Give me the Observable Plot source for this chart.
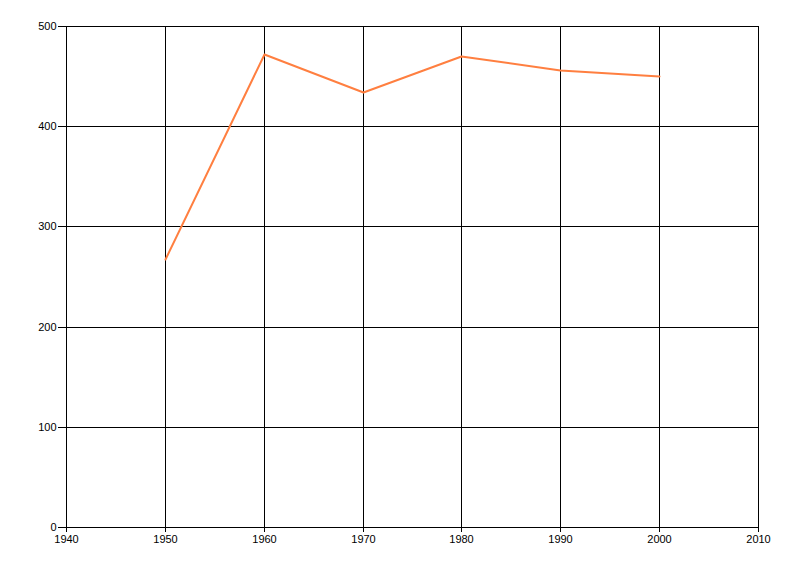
<!DOCTYPE html>
<html>
<head>
<meta charset="utf-8">
<script src="https://cdn.jsdelivr.net/npm/d3@7"></script>
<script src="https://cdn.jsdelivr.net/npm/@observablehq/plot@0.6"></script>
<style>
  html, body { margin: 0; padding: 0; background: #fff; }
  #chart svg { display: block; }
</style>
</head>
<body>
<div id="chart"></div>
<script>
const years = [1950, 1960, 1970, 1980, 1990, 2000];
const values = [267, 472, 434, 470, 456, 450];
const xTicks = [1940, 1950, 1960, 1970, 1980, 1990, 2000, 2010];
const yTicks = [0, 100, 200, 300, 400, 500];

const data = years.map((y, i) => ({year: y, value: values[i]}));

const chart = Plot.plot({
  width: 800,
  height: 576,
  marginLeft: 66,
  marginRight: 42,
  marginTop: 26,
  marginBottom: 49,
  style: {fontFamily: "'Liberation Sans', Arial, sans-serif", fontSize: "11px", color: "#000", background: "#fff"},
  x: {domain: [1940, 2010], round: true, ticks: xTicks, tickFormat: d => String(d), tickSize: 5, tickPadding: 3, label: null},
  y: {domain: [0, 500], round: true, ticks: yTicks, tickSize: 8, tickPadding: 2, label: null},
  marks: [
    Plot.ruleX(xTicks, {stroke: "#000", strokeWidth: 1}),
    Plot.ruleY(yTicks, {stroke: "#000", strokeWidth: 1}),
    Plot.frame({stroke: "#000"}),
    Plot.line(data, {x: "year", y: "value", stroke: "#ff7f40", strokeWidth: 2}),
    Plot.axisX({ticks: xTicks, tickFormat: d => String(d), tickSize: 5, tickPadding: 3, label: null}),
    Plot.axisY({ticks: yTicks, tickSize: 8, tickPadding: 2, label: null})
  ]
});
document.getElementById("chart").appendChild(chart);
</script>
</body>
</html>
